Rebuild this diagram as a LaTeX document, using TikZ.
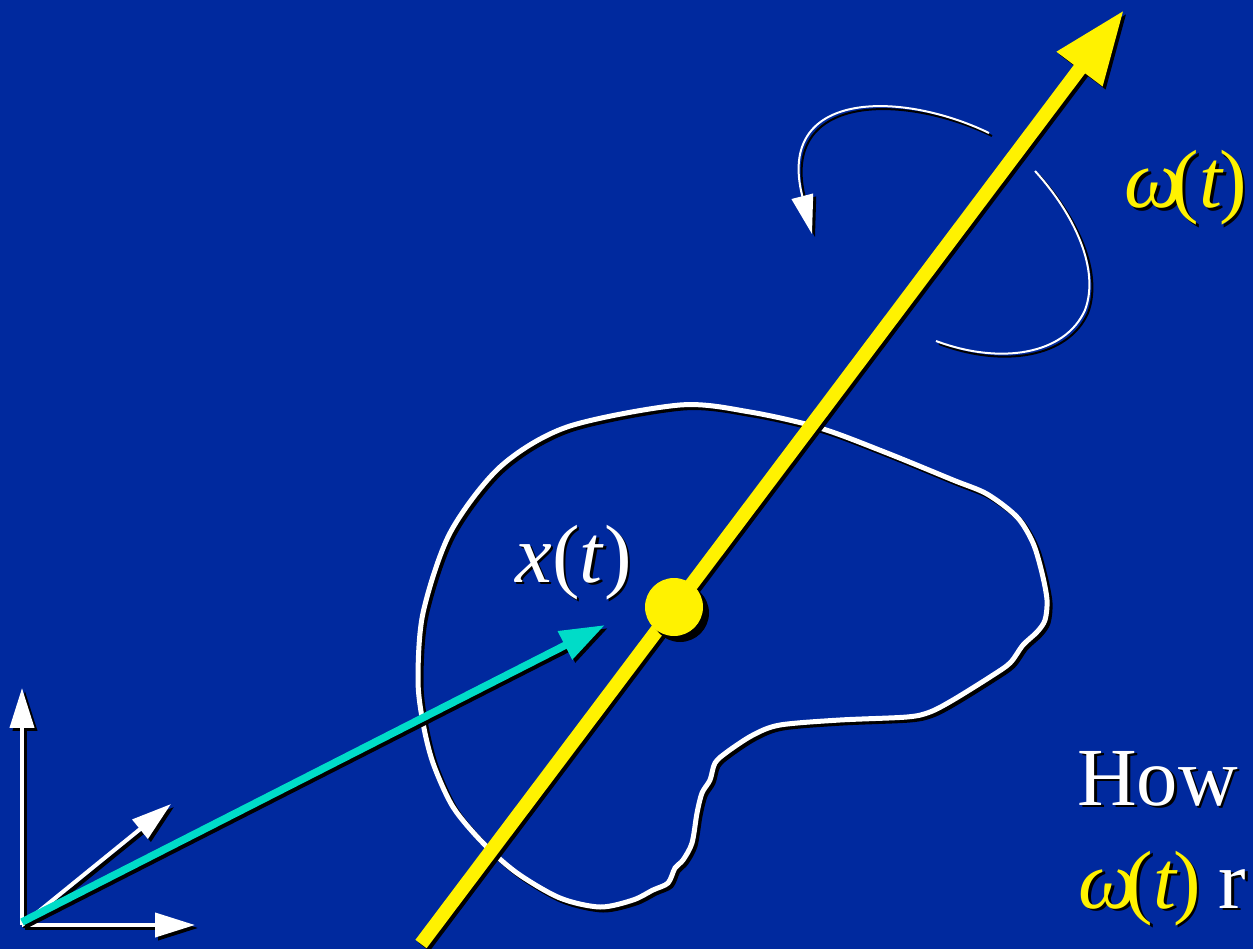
\documentclass[tikz,border=0pt]{standalone}
\usepackage{fontspec}
\setmainfont{Liberation Serif}
\usetikzlibrary{arrows.meta}
\definecolor{slideblue}{HTML}{00299E}
\definecolor{axisyellow}{HTML}{FFF200}
\definecolor{posteal}{HTML}{00DCC8}
\colorlet{labelY}{axisyellow}
% text with a black drop shadow
\newcommand{\dropped}[1]{\rlap{\kern1.5pt\raisebox{-1.5pt}{\colorlet{labelY}{black}\color{black}#1}}#1}
\newcommand{\omegat}{\textit{ω}\kern-0.13em(\textit{t}\kern-0.06em)}

\begin{document}
\begin{tikzpicture}[x=0.02cm,y=-0.02cm,
  shadow/.style={draw=black,transform canvas={shift={(3,3)}}},
  blob/.style={draw=white,line width=0.1cm},
  spin/.style={draw=white,line width=0.04cm},
  spinarrow/.style={spin,-{Triangle[length=0.78cm,width=0.44cm]}},
  frame/.style={draw=white,line width=0.08cm,-{Triangle[length=0.8cm,width=0.48cm]}},
  posarrow/.style={draw=posteal,line width=0.15cm,-{Triangle[length=0.9cm,width=0.6cm]}},
  axis/.style={draw=axisyellow,line width=0.28cm,-{Triangle[length=1.48cm,width=1.07cm]}},
  dot/.style={circle,fill=axisyellow,minimum size=1.16cm,inner sep=0pt},
  label/.style={font=\fontsize{47}{56}\selectfont,text=white,inner sep=0pt,anchor=base west}
]
\fill[slideblue,use as bounding box] (0,0) rectangle (1253,949);

\coordinate (O) at (22,925);
\coordinate (ex) at (195,925);
\coordinate (ey) at (22,688);
\coordinate (ez) at (171,804);
\coordinate (xorig) at (22,922);
\coordinate (xtip) at (605,625);
\coordinate (axbot) at (421,944);
\coordinate (axtip) at (1124,10);
\coordinate (spinA) at (989,133);
\coordinate (spinB) at (812,234);
\coordinate (spinC) at (1035,171);
\coordinate (spinD) at (936,341);

% the body
\foreach \pass in {shadow,blob}{
  \draw[blob,\pass] plot[smooth cycle] coordinates {
    (680,405) (750,412) (820,428) (887,453) (953,480) (987,494) (1017,517)
    (1033,543) (1042,573) (1047,600) (1045,620) (1037,632) (1023,645)
    (1010,663) (990,677) (953,700) (930,712) (907,717) (840,720) (780,725)
    (753,735) (727,752) (715,763) (710,780) (702,793) (697,813) (692,843)
    (683,860) (675,868) (668,883) (653,890) (633,900) (600,907) (560,898)
    (517,873) (483,843) (453,807) (433,763) (423,723) (418,680) (423,613)
    (450,533) (500,467) (567,427)};
}

% rotation about the axis
\draw[spinarrow,shadow] (spinA) .. controls (900,90) and (775,90) .. (spinB);
\draw[spinarrow] (spinA) .. controls (900,90) and (775,90) .. (spinB);
\draw[spin,shadow] (spinC) .. controls (1075,215) and (1100,270) .. (1085,310)
  .. controls (1065,355) and (1000,365) .. (spinD);
\draw[spin] (spinC) .. controls (1075,215) and (1100,270) .. (1085,310)
  .. controls (1065,355) and (1000,365) .. (spinD);

% world frame
\foreach \e in {ex,ey,ez}{
  \draw[frame,shadow] (O) -- (\e);
  \draw[frame] (O) -- (\e);
}

\draw[posarrow,shadow] (xorig) -- (xtip);
\draw[posarrow] (xorig) -- (xtip);

\draw[axis,shadow,line cap=butt] (axbot) -- (axtip);
\draw[axis,line cap=butt] (axbot) -- (axtip);
\node[dot,fill=black,transform canvas={shift={(3,3)}}] at (674,607) {};
\node[dot] (com) at (674,607) {};

\node[label,text=labelY] (omegalbl) at (1124,208) {\dropped{\omegat}};
\node[label] (xlbl) at (515,582) {\dropped{\textit{x}(\textit{t})}};
\node[label] (how) at (1077,805) {\dropped{How}};
\node[label] (howline) at (1078,908) {\dropped{\textcolor{labelY}{\omegat}\hspace{0.22em}r}};
\end{tikzpicture}
\end{document}
